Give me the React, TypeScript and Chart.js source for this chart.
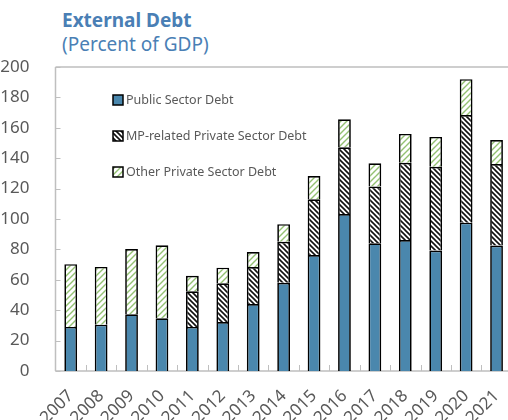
import React, { useEffect, useRef } from "react";
import { Chart, registerables } from "chart.js";

Chart.register(...registerables);

const years = ["2007", "2008", "2009", "2010", "2011", "2012", "2013", "2014", "2015", "2016", "2017", "2018", "2019", "2020", "2021"];
const publicDebt = [29, 30.5, 37.3, 34.7, 29, 32.2, 44, 58, 76.3, 103.3, 84, 86.2, 79.2, 97.6, 82.5];
const mpDebt = [0, 0, 0, 0, 23.5, 25.5, 24.4, 27, 36.7, 43.9, 37.3, 50.8, 55.2, 70.8, 53.7];
const otherDebt = [41.3, 38, 43, 48, 10.1, 10.3, 9.9, 11.6, 15.3, 18.4, 15.3, 19, 19.6, 23.6, 15.8];
const seriesNames = ["Public Sector Debt", "MP-related Private Sector Debt", "Other Private Sector Debt"];
const yTicks = [0, 20, 40, 60, 80, 100, 120, 140, 160, 180, 200];

const FONT = "'Noto Sans', 'Open Sans', sans-serif";
const TEXT = "#595959";
const AXIS = "#bfbfbf";
const BLUE = "#4a87ad";

function makePattern(kind: "mp" | "other"): CanvasPattern | string {
  const s = kind === "mp" ? 5 : 6;
  const c = document.createElement("canvas");
  c.width = s;
  c.height = s;
  const g = c.getContext("2d");
  if (!g) return "#fff";
  g.fillStyle = "#ffffff";
  g.fillRect(0, 0, s, s);
  g.lineWidth = kind === "mp" ? 1.6 : 1.4;
  g.strokeStyle = kind === "mp" ? "#111111" : "#93c172";
  g.beginPath();
  if (kind === "mp") {
    g.moveTo(-1, -1);
    g.lineTo(s + 1, s + 1);
    g.moveTo(-1, s - 1);
    g.lineTo(1, s + 1);
    g.moveTo(s - 1, -1);
    g.lineTo(s + 1, 1);
  } else {
    g.moveTo(-1, s + 1);
    g.lineTo(s + 1, -1);
    g.moveTo(-1, 1);
    g.lineTo(1, -1);
    g.moveTo(s - 1, s + 1);
    g.lineTo(s + 1, s - 1);
  }
  g.stroke();
  const p = g.createPattern(c, "repeat");
  return p || "#fff";
}

export default function App() {
  const ref = useRef<HTMLCanvasElement | null>(null);

  useEffect(() => {
    if (!ref.current) return;
    const mpPat = makePattern("mp");
    const otherPat = makePattern("other");
    const fills: any[] = [BLUE, mpPat, otherPat];

    const axesPlugin = {
      id: "customAxes",
      beforeDatasetsDraw(chart: any) {
        const { ctx, chartArea } = chart;
        const x = chart.scales.x;
        const y = chart.scales.y;
        ctx.save();
        ctx.strokeStyle = AXIS;
        ctx.lineWidth = 1.5;
        ctx.beginPath();
        ctx.moveTo(chartArea.left, chartArea.top);
        ctx.lineTo(chartArea.left, chartArea.bottom);
        ctx.moveTo(chartArea.left, chartArea.top);
        ctx.lineTo(chartArea.right + 5, chartArea.top);
        ctx.moveTo(chartArea.left, chartArea.bottom);
        ctx.lineTo(chartArea.right + 5, chartArea.bottom);
        ctx.stroke();
        ctx.lineWidth = 1;
        ctx.beginPath();
        yTicks.forEach((v) => {
          const py = Math.round(y.getPixelForValue(v)) + 0.5;
          ctx.moveTo(chartArea.left, py);
          ctx.lineTo(chartArea.left + 5, py);
        });
        const step = x.getPixelForValue(1) - x.getPixelForValue(0);
        for (let i = 1; i <= years.length; i++) {
          const px = Math.round(x.getPixelForValue(i) - step / 2) + 0.5;
          ctx.moveTo(px, chartArea.bottom);
          ctx.lineTo(px, chartArea.bottom - 6);
        }
        ctx.stroke();
        ctx.restore();
      },
      afterDraw(chart: any) {
        const { ctx } = chart;
        ctx.save();
        const lx = 113;
        const ys = [100, 136, 172];
        ctx.font = `12.5px ${FONT}`;
        ctx.textBaseline = "middle";
        ctx.fillStyle = TEXT;
        seriesNames.forEach((name, i) => {
          const yy = ys[i];
          ctx.fillStyle = fills[i];
          ctx.fillRect(lx, yy - 5, 10, 10);
          ctx.strokeStyle = "#000";
          ctx.lineWidth = 1.5;
          ctx.strokeRect(lx, yy - 5, 10, 10);
          ctx.fillStyle = TEXT;
          ctx.fillText(name, lx + 13, yy);
        });
        ctx.restore();
      },
    };

    const mk = (label: string, data: number[], bg: any) => ({
      label,
      data,
      backgroundColor: bg,
      borderColor: "#000000",
      borderWidth: 1.7,
      barPercentage: 0.42,
      categoryPercentage: 1,
    });

    const chart = new Chart(ref.current, {
      type: "bar",
      data: {
        labels: years,
        datasets: [
          mk(seriesNames[0], publicDebt, BLUE),
          mk(seriesNames[1], mpDebt, mpPat),
          mk(seriesNames[2], otherDebt, otherPat),
        ],
      },
      options: {
        animation: false,
        responsive: false,
        maintainAspectRatio: false,
        layout: { padding: { top: 67, left: 0, right: 1, bottom: 0 } },
        plugins: {
          legend: { display: false },
          tooltip: { enabled: false },
          title: { display: false },
        },
        scales: {
          x: {
            stacked: true,
            grid: { display: false },
            border: { display: false },
            ticks: {
              autoSkip: false,
              maxRotation: 45,
              minRotation: 45,
              color: TEXT,
              font: { family: FONT, size: 17 },
              padding: 7,
            },
            afterFit(scale: any) {
              scale.height = 49;
            },
          },
          y: {
            stacked: true,
            min: 0,
            max: 200,
            grid: { display: false },
            border: { display: false },
            ticks: {
              stepSize: 20,
              color: TEXT,
              font: { family: FONT, size: 17 },
              padding: 18,
            },
            afterFit(scale: any) {
              scale.width = 55.5;
            },
          },
        },
      },
      plugins: [axesPlugin],
    } as any);
    return () => chart.destroy();
  }, []);

  return (
    <div style={{ position: "fixed", left: 0, top: 0, width: 508, height: 420, overflow: "hidden", background: "#fff" }}>
      <div style={{ position: "absolute", left: 62, top: 8, fontFamily: FONT, color: "#4a7fb5", lineHeight: "24px" }}>
        <div style={{ fontSize: 19, fontWeight: 700 }}>External Debt</div>
        <div style={{ fontSize: 19, fontWeight: 400 }}>(Percent of GDP)</div>
      </div>
      <canvas ref={ref} width={518} height={420} style={{ position: "absolute", left: 0, top: 0, width: 518, height: 420 }} />
    </div>
  );
}
